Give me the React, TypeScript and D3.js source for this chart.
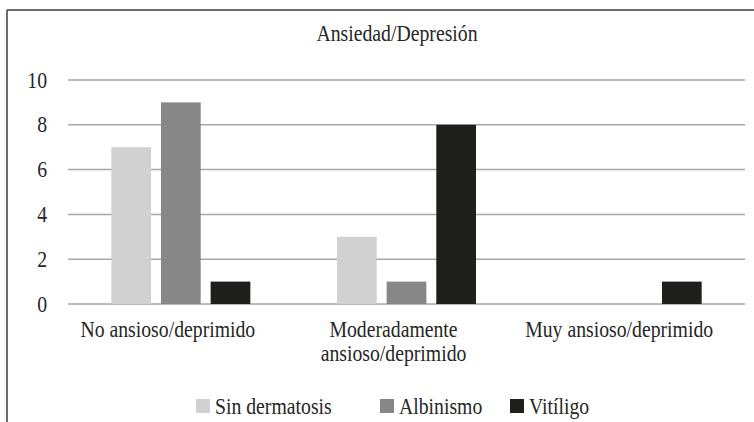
import * as d3 from "d3";

// chart data
const categories = ["No ansioso/deprimido", "Moderadamente\nansioso/deprimido", "Muy ansioso/deprimido"];
const seriesNames = ["Sin dermatosis", "Albinismo", "Vitíligo"];
const sinDermatosis = [7, 3, 0];
const albinismo = [9, 1, 0];
const vitiligo = [1, 8, 1];
const yTicks = [0, 2, 4, 6, 8, 10];
const colors = ["#d1d1d1", "#878787", "#1f1f1d"];

const W = 754;
const H = 422;
const FONT = "Liberation Serif, Tinos, Times New Roman, serif";
const SX = 0.84; // condensed look of the original face

export default function App() {
  const values = [sinDermatosis, albinismo, vitiligo];

  const x0 = d3
    .scaleBand<string>()
    .domain(categories)
    .range([68, 745])
    .paddingInner(0.384)
    .paddingOuter(0.192);

  const x1 = d3
    .scaleBand<string>()
    .domain(seriesNames)
    .range([0, x0.bandwidth()])
    .paddingInner(0.2);

  const y = d3.scaleLinear().domain([0, 10]).range([304, 80]);

  const labelShift = -13;

  // legend layout
  const legendX = [196, 380, 510];
  const legendY = 406;

  const txt = { fontFamily: FONT, fontSize: "23.5px", fill: "#262626" };

  return (
    <svg
      width={W}
      height={H}
      style={{ position: "absolute", left: 0, top: 0, background: "#fff" }}
    >
      <rect x={0} y={0} width={W} height={H} fill="#fff" />
      {/* frame */}
      <line x1={7} y1={10} x2={W} y2={10} stroke="#3c3c3c" strokeWidth={1.5} />
      <line x1={7} y1={10} x2={7} y2={H} stroke="#3c3c3c" strokeWidth={1.5} />

      <text
        transform={`translate(397,41) scale(${SX},1)`}
        textAnchor="middle"
        style={txt}
      >
        Ansiedad/Depresión
      </text>

      {/* gridlines + y labels */}
      {yTicks.map((t) => (
        <g key={t}>
          <line
            x1={68}
            x2={745}
            y1={y(t)}
            y2={y(t)}
            stroke="#a8a8a8"
            strokeWidth={1.5}
          />
          <text
            transform={`translate(47,${y(t) + 7.5}) scale(${SX},1)`}
            textAnchor="end"
            style={txt}
          >
            {t}
          </text>
        </g>
      ))}

      {/* bars */}
      {categories.map((c, ci) => (
        <g key={c} transform={`translate(${x0(c)},0)`}>
          {seriesNames.map((s, si) => {
            const v = values[si][ci];
            if (!v) return null;
            return (
              <rect
                key={s}
                x={x1(s)}
                y={y(v)}
                width={x1.bandwidth()}
                height={y(0) - y(v)}
                fill={colors[si]}
              />
            );
          })}
        </g>
      ))}

      {/* category labels */}
      {categories.map((c) => {
        const cx = (x0(c) ?? 0) + x0.bandwidth() / 2 + labelShift;
        return c.split("\n").map((line, li) => (
          <text
            key={c + li}
            transform={`translate(${cx},${337 + li * 24}) scale(${SX},1)`}
            textAnchor="middle"
            style={txt}
          >
            {line}
          </text>
        ));
      })}

      {/* legend */}
      {seriesNames.map((s, i) => (
        <g key={s}>
          <rect x={legendX[i]} y={legendY - 7} width={14} height={14} fill={colors[i]} />
          <text
            transform={`translate(${legendX[i] + 19},${legendY + 8}) scale(${SX},1)`}
            style={txt}
          >
            {s}
          </text>
        </g>
      ))}
    </svg>
  );
}
